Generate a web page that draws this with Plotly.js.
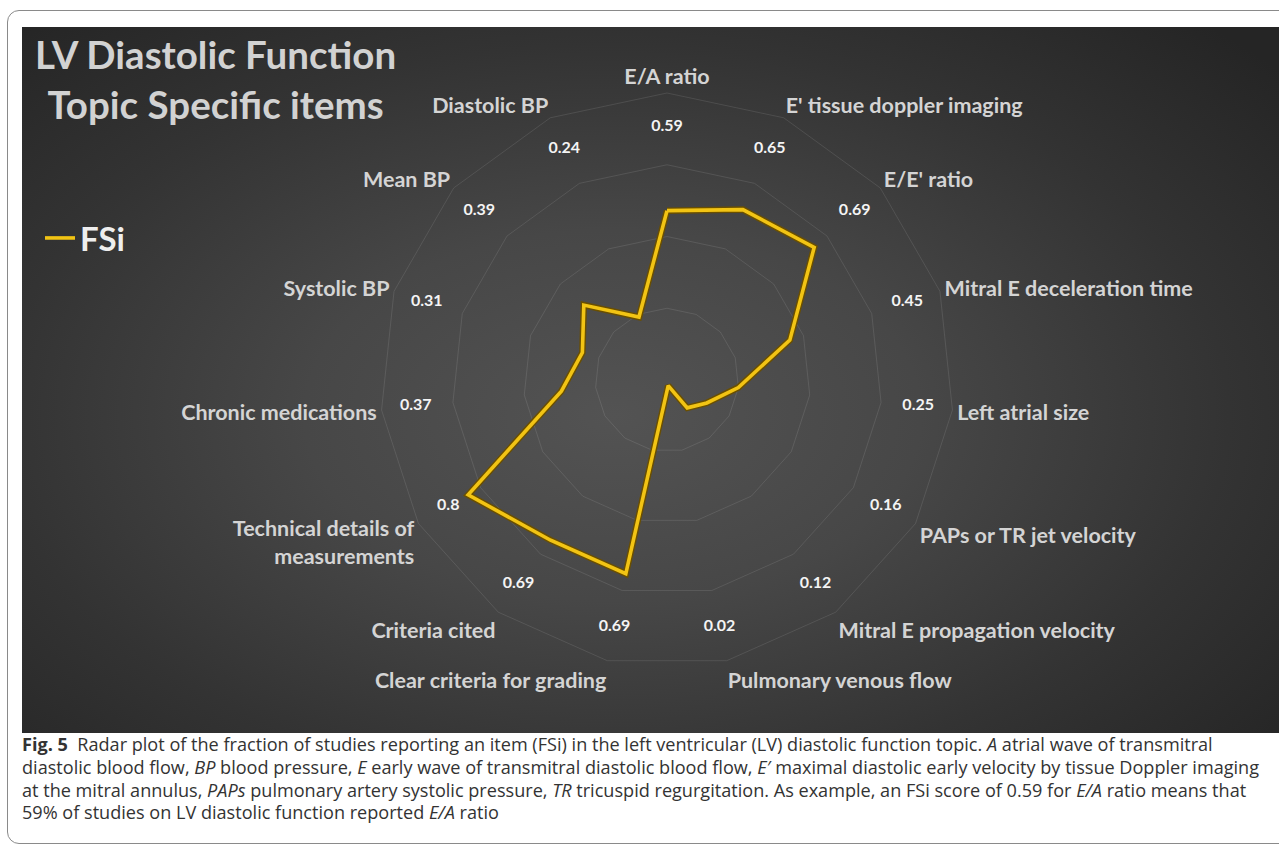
<!DOCTYPE html>
<html>
<head>
<meta charset="utf-8">
<script src="https://cdn.plot.ly/plotly-3.0.1.min.js"></script>
<style>
  html, body { margin: 0; padding: 0; background: #ffffff; }
  #wrap { position: relative; width: 1279px; height: 852px; overflow: hidden; background: #ffffff; }
  #frame { position: absolute; left: 7px; top: 10px; width: 1320px; height: 834px;
           border: 1.5px solid #8a8a8a; border-radius: 12px; box-sizing: border-box; }
  #panel { position: absolute; left: 22px; top: 27px; width: 1257px; height: 706px;
           background: radial-gradient(ellipse 70% 75% at 47% 55%, #535353 0%, #474747 35%, #333333 70%, #252525 100%); }
  #chart { position: absolute; left: 0; top: 0; width: 1279px; height: 852px; }
  #caption { position: absolute; left: 22px; top: 733px; font-family: "Open Sans", "Noto Sans", sans-serif;
             font-size: 18.1px; color: #333333; line-height: 22.8px; }
  #caption div { white-space: nowrap; }
</style>
</head>
<body>
<div id="wrap">
  <div id="frame"></div>
  <div id="panel"></div>
  <div id="chart"></div>
  <div id="caption">
    <div><b>Fig. 5</b>&nbsp; Radar plot of the fraction of studies reporting an item (FSi) in the left ventricular (LV) diastolic function topic. <i>A</i> atrial wave of transmitral</div>
    <div>diastolic blood flow, <i>BP</i> blood pressure, <i>E</i> early wave of transmitral diastolic blood flow, <i>E′</i> maximal diastolic early velocity by tissue Doppler imaging</div>
    <div>at the mitral annulus, <i>PAPs</i> pulmonary artery systolic pressure, <i>TR</i> tricuspid regurgitation. As example, an FSi score of 0.59 for <i>E/A</i> ratio means that</div>
    <div>59% of studies on LV diastolic function reported <i>E/A</i> ratio</div>
  </div>
</div>
<script>
// ---- data ----
const categories = [
  "E/A ratio",
  "E' tissue doppler imaging",
  "E/E' ratio",
  "Mitral E deceleration time",
  "Left atrial size",
  "PAPs or TR jet velocity",
  "Mitral E propagation velocity",
  "Pulmonary venous flow",
  "Clear criteria for grading",
  "Criteria cited",
  "Technical details of<br>measurements",
  "Chronic medications",
  "Systolic BP",
  "Mean BP",
  "Diastolic BP"
];
const fsiValues = [0.59, 0.65, 0.69, 0.45, 0.25, 0.16, 0.12, 0.02, 0.69, 0.69, 0.8, 0.37, 0.31, 0.39, 0.24];
const seriesName = "FSi";
const titleLines = ["LV Diastolic Function", "Topic Specific items"];

// ---- build ----
const closedTheta = categories.concat([categories[0]]);
const closedR = fsiValues.concat([fsiValues[0]]);
const labelRadius = 0.88;

const W = 1279, H = 852;
const cx = 667, cy = 380, R = 287;

const FONT = "Lato, 'Open Sans', sans-serif";
const labelFont = { family: FONT, size: 21.5, color: "#d4d4d4", weight: 700 };

const traces = [
  { type: "scatterpolar", mode: "lines", r: closedR, theta: closedTheta,
    line: { color: "#6a4f00", width: 6.5, shape: "linear" }, showlegend: false, hoverinfo: "skip" },
  { type: "scatterpolar", mode: "lines", r: closedR, theta: closedTheta, name: seriesName,
    line: { color: "#f2c414", width: 3.6, shape: "linear" }, showlegend: true },
  { type: "scatterpolar", mode: "text", r: categories.map(() => labelRadius), theta: categories,
    text: fsiValues.map(v => String(v)), textposition: "middle center",
    textfont: { family: FONT, size: 16, color: "#f4f4f4", weight: 700 },
    showlegend: false, hoverinfo: "skip" }
];

const gridCol = "rgba(255,255,255,0.10)";

const layout = {
  width: W, height: H,
  margin: { l: 0, r: 0, t: 0, b: 0 },
  paper_bgcolor: "rgba(0,0,0,0)",
  plot_bgcolor: "rgba(0,0,0,0)",
  annotations: [{
    text: titleLines.join("<br>"),
    xref: "paper", yref: "paper",
    x: 215 / W, xanchor: "center",
    y: 1 - 79 / H, yanchor: "middle",
    align: "center", showarrow: false,
    font: { family: FONT, size: 38.5, color: "#d2d2d2", weight: 700 }
  }],
  showlegend: true,
  legend: {
    x: 40 / W, xanchor: "left", y: 1 - 238 / H, yanchor: "middle",
    bgcolor: "rgba(0,0,0,0)", borderwidth: 0,
    font: { family: FONT, size: 33, color: "#eeeeee", weight: 700 },
    itemwidth: 30
  },
  polar: {
    domain: { x: [(cx - R) / W, (cx + R) / W], y: [1 - (cy + R) / H, 1 - (cy - R) / H] },
    bgcolor: "rgba(0,0,0,0)",
    gridshape: "linear",
    radialaxis: {
      range: [0, 1], tick0: 0, dtick: 0.25, showticklabels: false, ticks: "",
      showline: false, gridcolor: gridCol, gridwidth: 1
    },
    angularaxis: {
      type: "category", direction: "clockwise", rotation: 90,
      showgrid: false, showline: true, linecolor: gridCol, linewidth: 1,
      ticks: "", tickfont: labelFont
    }
  }
};

Plotly.newPlot("chart", traces, layout, { displayModeBar: false, staticPlot: true });
</script>
</body>
</html>
